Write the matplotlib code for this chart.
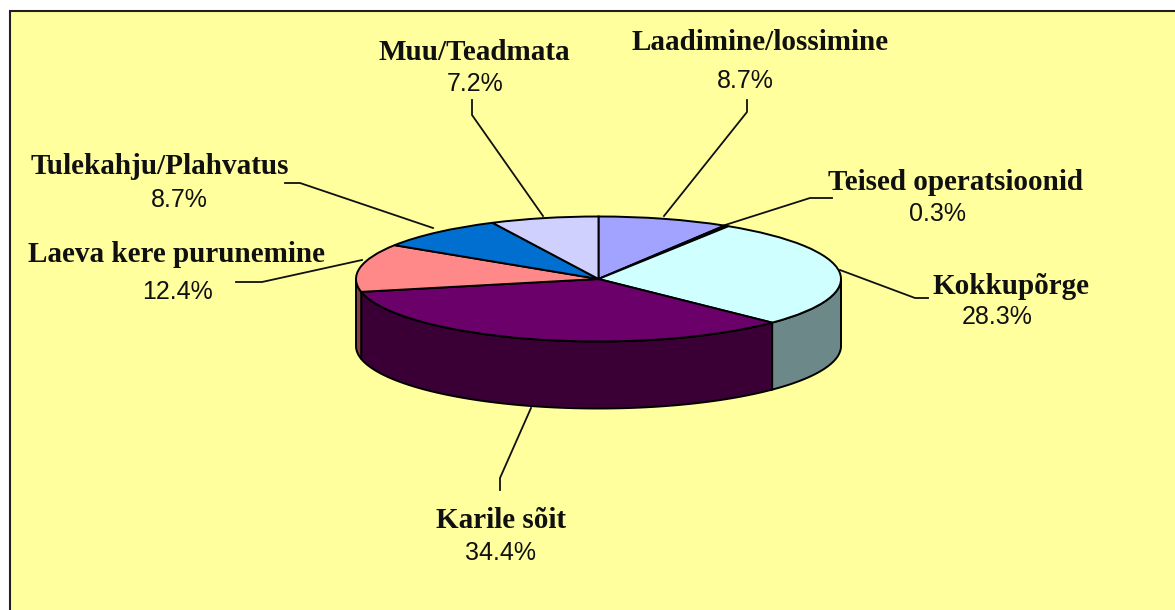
import numpy as np
import matplotlib
matplotlib.use('Agg')
import matplotlib.pyplot as plt
from matplotlib.patches import Rectangle

names = ['Laadimine/lossimine', 'Teised operatsioonid', 'Kokkupõrge', 'Karile sõit',
         'Laeva kere purunemine', 'Tulekahju/Plahvatus', 'Muu/Teadmata']
values = [8.7, 0.3, 28.3, 34.4, 12.4, 8.7, 7.2]
top_colors = ['#A2A2FF', '#993366', '#CFFFFF', '#6C006A', '#FF8888', '#006FD0', '#D0D0FF']
side_colors = ['#5050A0', '#4C1933', '#6C8888', '#3A0036', '#804040', '#003366', '#666680']

# label centres in pixels: name (x, y), percent (x, y)
name_pos = [(760, 43), (956, 182), (1011, 287), (501, 520), (177, 255), (160, 167), (474, 52)]
pct_pos = [(745, 81), (938, 214), (997, 317), (500, 553), (177, 292), (179, 200), (475, 84)]
leaders = [
    [(747, 100), (747, 112), (664, 216)],
    [(832, 198), (810, 198), (722, 226)],
    [(928, 298), (915, 298), (840, 270)],
    [(500, 490), (500, 478), (531, 408)],
    [(236, 282), (262, 282), (362, 260)],
    [(285, 183), (300, 183), (433, 228)],
    [(472, 100), (472, 115), (543, 216)],
]

W, H = 1175, 610
cx, cy, rx, ry, depth = 598.5, 279, 242.5, 62.5, 67

fig = plt.figure(figsize=(W / 100, H / 100), dpi=100, facecolor='white')
ax = fig.add_axes([0, 0, 1, 1])
ax.set_xlim(0, W)
ax.set_ylim(H, 0)
ax.axis('off')
ax.add_patch(Rectangle((10, 11), W, H, facecolor='#FFFF9E', edgecolor='#202020', lw=1.5))

# elliptic pie: the axes box itself squashes the circle
pie_ax = fig.add_axes([(cx - rx) / W, 1 - (cy + ry) / H, 2 * rx / W, 2 * ry / H])
pie_ax.patch.set_alpha(0)

# side walls, only the front half of the rim shows
d = depth / ry
edges = np.radians(np.concatenate([[0], np.cumsum(values)]) * 3.6)
for a, b, c in zip(edges[:-1], edges[1:], side_colors):
    lo, hi = max(a, np.pi / 2), min(b, 3 * np.pi / 2)
    if hi <= lo:
        continue
    t = np.linspace(lo, hi, 80)
    xs = np.concatenate([np.sin(t), np.sin(t[::-1])])
    ys = np.concatenate([np.cos(t), np.cos(t[::-1]) - d])
    pie_ax.fill(xs, ys, facecolor=c, edgecolor='black', lw=1.4, clip_on=False)

wedges, _ = pie_ax.pie(values, colors=top_colors, startangle=90, counterclock=False, radius=1,
                       wedgeprops=dict(edgecolor='black', linewidth=1.4, clip_on=False))
pie_ax.set_aspect('auto')
pie_ax.set_xlim(-1, 1)
pie_ax.set_ylim(-1, 1)

for pts in leaders:
    ax.plot(*zip(*pts), color='#101010', lw=1.3, zorder=5)

for name, v, np_, pp in zip(names, values, name_pos, pct_pos):
    ax.text(np_[0], np_[1], name, ha='center', va='center', family='Liberation Serif',
            weight='bold', fontsize=21, color='#101010')
    ax.text(pp[0], pp[1], f'{v}%', ha='center', va='center', family='Liberation Sans',
            fontsize=18, color='#101010')

fig.savefig('out.png', dpi=100)
